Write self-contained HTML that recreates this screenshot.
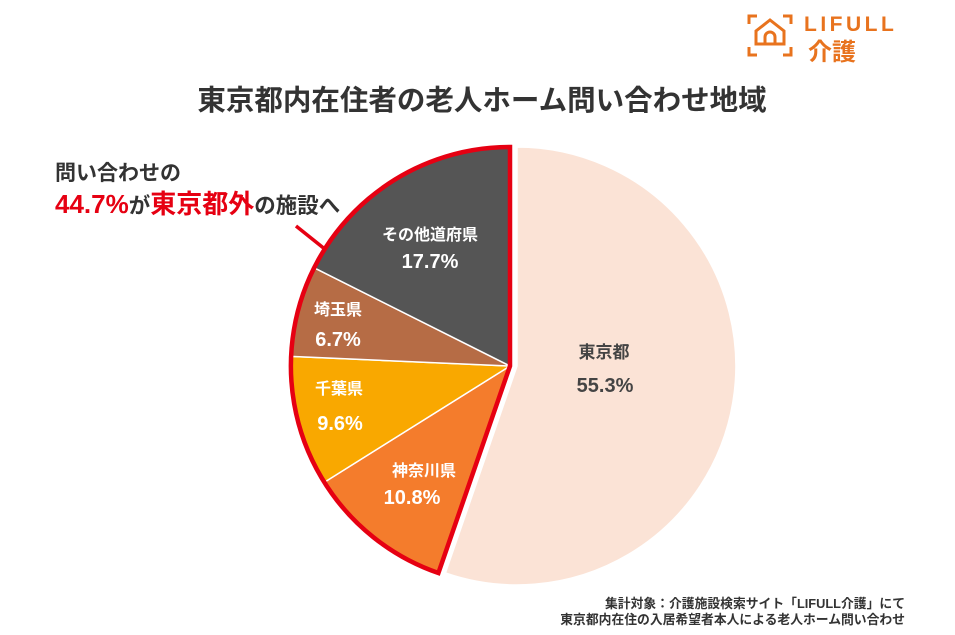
<!DOCTYPE html>
<html><head><meta charset="utf-8"><style>
body{margin:0;background:#fff;}
svg text{font-family:"Liberation Sans","Noto Sans CJK JP",sans-serif;}
</style></head><body>
<svg width="955" height="630" viewBox="0 0 955 630" xmlns="http://www.w3.org/2000/svg">
<rect width="955" height="630" fill="#fff"/>
<g stroke="#e8731e" stroke-width="3" fill="none">
<path d="M749 24 V16 H757 M783 16 H791 V24 M749 47 V55 H757 M783 55 H791 V47"/>
<path d="M756 44 V31 L770 20 L784 31 V44 Z"/>
<path d="M765 44 V37 A5 5 0 0 1 775 37 V44"/>
</g>
<text x="804" y="31" font-size="21" font-weight="bold" fill="#e8731e" letter-spacing="3.5">LIFULL</text>
<text x="808" y="60" font-size="24" font-weight="bold" fill="#e8731e">介護</text>
<text x="482" y="110" font-size="28.5" font-weight="bold" fill="#333" text-anchor="middle">東京都内在住者の老人ホーム問い合わせ地域</text>
<path d="M517 366 L517 147 A219 219 0 1 1 445.4 573 Z" fill="#fbe3d6" stroke="#fff" stroke-width="1.5"/>
<path d="M510 366 L438.4 573 A219 219 0 0 1 324.4 482.2 Z" fill="#f47c2c" stroke="#fff" stroke-width="1.5"/>
<path d="M510 366 L324.4 482.2 A219 219 0 0 1 291.2 356.4 Z" fill="#f9a800" stroke="#fff" stroke-width="1.5"/>
<path d="M510 366 L291.2 356.4 A219 219 0 0 1 314.2 267.8 Z" fill="#b66c45" stroke="#fff" stroke-width="1.5"/>
<path d="M510 366 L314.2 267.8 A219 219 0 0 1 510 147 Z" fill="#555" stroke="#fff" stroke-width="1.5"/>
<path d="M510 366 L438.4 573 A219 219 0 0 1 510 147 Z" fill="none" stroke="#e60012" stroke-width="4.5"/>
<line x1="296" y1="226" x2="326" y2="250" stroke="#e60012" stroke-width="3.5"/>
<g font-weight="bold" text-anchor="middle">
<text x="604" y="358" font-size="17" fill="#444">東京都</text>
<text x="605" y="392" font-size="20" fill="#444">55.3%</text>
<text x="430" y="240" font-size="16" fill="#fff">その他道府県</text>
<text x="430" y="268" font-size="20" fill="#fff">17.7%</text>
<text x="338" y="315" font-size="16" fill="#fff">埼玉県</text>
<text x="338" y="346" font-size="20" fill="#fff">6.7%</text>
<text x="339" y="394" font-size="16" fill="#fff">千葉県</text>
<text x="340" y="430" font-size="20" fill="#fff">9.6%</text>
<text x="424" y="476" font-size="16" fill="#fff">神奈川県</text>
<text x="412" y="504" font-size="20" fill="#fff">10.8%</text>
</g>
<text x="55" y="180" font-size="21" font-weight="bold" fill="#333">問い合わせの</text>
<text x="55" y="213" font-size="21.5" font-weight="bold" fill="#333"><tspan fill="#e60012" font-size="26">44.7%</tspan>が<tspan fill="#e60012" font-size="26">東京都外</tspan>の施設へ</text>
<g font-size="12.8" font-weight="bold" fill="#333" text-anchor="end">
<text x="905" y="608">集計対象：介護施設検索サイト「LIFULL介護」にて</text>
<text x="905" y="624">東京都内在住の入居希望者本人による老人ホーム問い合わせ</text>
</g>
</svg>
</body></html>
